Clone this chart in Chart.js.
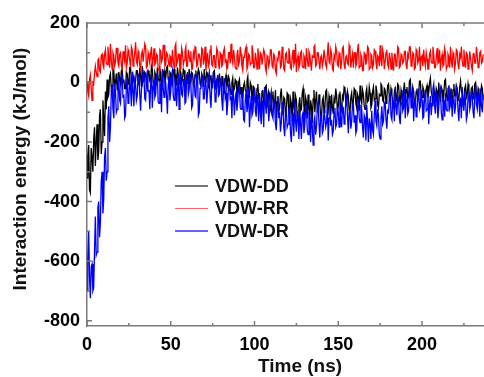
<!DOCTYPE html>
<html>
<head>
<meta charset="utf-8">
<script src="https://cdn.jsdelivr.net/npm/chart.js@4.4.1/dist/chart.umd.min.js"></script>
<style>
  html, body { margin: 0; padding: 0; background: #fff; }
  #wrap { position: relative; width: 484px; height: 377px; }
  .legend { position: absolute; left: 175px; top: 175px; font: bold 18px "Liberation Sans", Arial, sans-serif; color: #111; }
  .row { height: 22.5px; display: flex; align-items: center; }
  .swatch { width: 33px; height: 0; border-top: 2px solid; margin-right: 7px; }
</style>
</head>
<body>
<div id="wrap">
  <canvas id="chart" width="484" height="377"></canvas>
  <div class="legend">
    <div class="row"><span class="swatch" style="border-color:#777"></span>VDW-DD</div>
    <div class="row"><span class="swatch" style="border-color:#f66;border-top-width:1.5px"></span>VDW-RR</div>
    <div class="row"><span class="swatch" style="border-color:#66f"></span>VDW-DR</div>
  </div>
</div>
<script>
// 0.5 ns sampling, one row = 10 ns
const timeStep = 0.5;

const vdwDD = [
  -320,-250,-210,-360,-370,-220,-250,-300,-190,-150,-280,-200,-140,-260,-230,-110,-90,-240,-200,-60,
  -120,-180,-30,-90,10,-50,-40,20,30,-20,-10,45,40,-15,0,30,-25,-5,35,10,
  -5,40,45,0,10,-20,-20,35,30,-5,0,50,50,5,-15,25,25,-10,5,40,
  40,5,-10,50,20,-15,55,20,0,35,30,-10,-20,40,35,5,10,55,45,0,
  -5,35,25,-10,50,15,5,45,35,-5,-15,30,40,0,15,50,55,10,0,35,
  30,-5,-10,40,45,10,20,-10,50,25,-5,40,35,0,10,45,40,-10,-20,25,
  25,-5,45,20,0,35,30,-10,-15,25,40,5,10,45,35,-5,-10,30,20,-15,
  45,10,5,35,30,-15,-20,20,25,-10,0,35,40,5,-25,10,15,-20,30,5,
  -10,20,20,-20,-30,10,25,-15,-5,20,10,-25,-40,0,15,-30,-20,10,5,-35,
  -35,0,10,-40,-15,-50,-50,-10,0,-25,-30,5,20,-35,-45,0,-10,-55,-60,-15,
  -20,-65,-70,-20,-5,-50,-45,-95,-90,-30,-25,-75,-60,-15,-10,-70,-80,-30,-40,-90,
  -100,-45,-30,-85,-70,-25,-120,-65,-45,-100,-85,-40,-20,-75,-110,-50,-55,-115,-95,-35,
  -40,-100,-120,-55,-70,-130,-30,-80,-100,-45,-60,-115,-130,-75,-50,-95,-90,-35,-20,-80,
  -110,-50,-65,-120,-40,-85,-125,-60,-80,-135,-55,-25,-100,-60,-30,-95,-90,-40,-70,-120,
  -115,-60,-50,-100,-85,-30,-25,-80,-95,-45,-60,-110,-40,-85,-105,-55,-70,-20,-45,-95,
  -80,-40,-30,-85,-95,-45,-55,-15,-20,-70,-75,-30,-45,-95,-100,-50,-35,-80,-65,-20,
  -25,-70,-85,-40,-50,-95,-10,-55,-70,-25,-40,-80,-90,-35,-20,-65,-60,-15,-35,-85,
  -75,-30,-15,-60,-55,-10,-30,-75,-85,-40,-45,-5,-10,-60,-65,-20,-25,-70,-50,-10,
  -5,-50,-60,-20,-35,-85,-80,-30,-20,-60,-50,-5,-10,-55,-70,-25,-40,-80,-25,0,
  -65,-25,-15,-55,-45,5,10,-40,-55,-15,-30,-70,-75,-30,-20,-60,-40,5,5,-45,
  -50,-15,-25,-65,-60,-20,-10,-50,-35,0,15,-30,-45,-80,-20,-35,-65,-20,-30,-70,
  0,-40,-55,-15,-25,-65,-40,5,10,-35,-60,-20,-15,-55,-35,-80,-70,-25,-5,-45,
  -45,-10,-20,-60,-55,-15,5,-30,-35,-75,-65,-20,-10,-50,-40,-5,-25,-70,-60,-20,
  -15,-55,-45,-5,0,-40,-55,-20,-30,-70,-50,-10,-20,-60
];

const vdwRR = [
  5,-30,-45,10,25,-20,-60,0,-5,30,55,35,20,75,80,40,35,90,95,60,
  50,95,110,65,60,120,85,50,130,75,45,100,90,55,70,115,115,65,55,95,
  100,60,40,105,85,70,125,50,65,110,95,75,50,120,110,55,75,100,135,70,
  60,105,90,55,45,95,105,70,70,130,120,50,55,100,85,65,100,120,50,80,
  115,60,65,95,90,45,40,110,105,70,80,125,125,55,60,100,95,75,55,90,
  85,50,110,75,50,120,130,60,70,95,95,40,45,115,100,60,75,105,120,55,
  55,110,90,70,105,45,45,100,85,120,115,55,60,95,95,75,50,115,110,60,
  80,120,40,75,100,55,65,110,125,60,55,90,90,50,70,115,105,65,45,100,
  95,55,60,105,115,70,75,45,50,100,100,65,130,80,65,110,85,50,45,90,
  110,60,70,120,95,55,40,85,85,110,120,45,55,95,90,60,65,125,105,50,
  50,100,80,45,115,85,45,100,95,60,60,110,100,50,35,90,85,55,70,110,
  110,55,50,95,90,40,30,80,75,105,105,50,55,120,85,45,40,95,100,70,
  65,115,95,50,45,85,110,60,70,130,35,75,90,50,60,100,105,55,50,90,
  80,45,115,80,55,105,95,65,40,90,85,120,125,55,60,100,100,70,45,85,
  90,55,70,110,110,60,50,95,135,70,65,110,95,45,40,90,80,120,105,60,
  55,100,95,45,70,115,120,60,45,85,90,65,60,125,110,50,75,95,50,100,
  100,55,65,110,130,50,55,95,85,40,40,100,95,60,75,120,115,45,50,95,
  90,50,60,110,105,70,45,90,85,55,125,75,55,110,95,45,70,100,110,60,
  50,100,80,45,100,65,40,95,95,55,65,120,115,50,55,95,90,65,70,105,
  105,60,45,95,85,120,120,55,60,100,95,45,50,110,100,65,75,120,40,85,
  90,55,110,75,55,100,80,45,45,95,105,70,65,120,95,50,50,85,115,65,
  70,110,40,80,95,55,60,115,100,45,55,95,85,50,120,75,50,100,90,45,
  65,110,105,60,45,95,85,120,70,55,110,75,50,100,95,45,60,105,80,55,
  40,95,100,65,65,120,90,50,55,100,105,65,70,95
];

const vdwDR = [
  -700,-590,-500,-650,-725,-620,-610,-700,-690,-560,-450,-580,-570,-420,-400,-520,-470,-330,-300,-440,
  -390,-250,-220,-330,-300,-120,-80,-200,-150,-30,-10,-90,-120,0,-30,-100,-90,20,10,-60,
  -70,15,25,-50,-40,-120,-110,-10,15,-70,-55,20,-20,-80,35,-30,-80,10,-5,-60,
  -45,25,30,-40,-95,-20,-10,35,20,-55,-60,10,40,-30,-25,-90,-5,30,-85,-15,
  10,-50,-40,25,30,-65,-70,5,-15,-100,45,-20,-50,15,0,-45,-105,-10,20,-60,
  -30,25,40,-45,-60,10,5,-80,-20,30,-90,-25,25,-40,-45,10,10,-70,-65,15,
  35,-40,-25,30,-5,-85,-75,0,15,-45,-50,20,30,-110,-100,-20,-10,25,20,-55,
  -55,10,0,-70,-30,20,35,-50,-85,-10,-15,35,10,-65,-60,5,25,-45,-40,15,
  -5,-60,-95,-20,15,-50,-35,-110,-70,-10,0,-55,-50,-120,-20,-45,-110,-60,-30,-95,
  -60,-15,-10,-85,-90,-35,-40,-125,-130,-60,-25,-100,-75,-20,-150,-90,-45,-110,-100,-50,
  -20,-95,-115,-40,-65,-130,-35,-100,-140,-60,-80,-150,-15,-70,-105,-40,-55,-130,-90,-45,
  -30,-110,-120,-60,-70,-140,-160,-90,-50,-120,-100,-165,-135,-70,-75,-150,-180,-110,-95,-150,
  -140,-90,-85,-170,-200,-120,-110,-180,-60,-130,-165,-95,-120,-190,-90,-140,-190,-110,-100,-170,
  -145,-90,-80,-160,-175,-100,-125,-200,-95,-150,-210,-130,-115,-175,-150,-85,-70,-140,-185,-110,
  -105,-170,-160,-90,-90,-150,-135,-70,-195,-120,-75,-145,-125,-175,-165,-100,-85,-150,-140,-80,
  -100,-150,-60,-125,-150,-80,-85,-140,-120,-60,-45,-110,-170,-100,-95,-155,-130,-70,-70,-135,
  -110,-170,-160,-90,-55,-120,-135,-75,-90,-150,-185,-110,-120,-195,-75,-130,-200,-120,-140,-190,
  -95,-160,-175,-110,-60,-130,-145,-90,-110,-175,-190,-120,-80,-140,-130,-70,-65,-125,-155,-95,
  -100,-50,-40,-115,-125,-60,-70,-130,-15,-80,-110,-45,-55,-120,-140,-70,-30,-95,-85,-20,
  -120,-60,-45,-105,-95,-30,-10,-85,-75,-20,-130,-70,-50,-115,-100,-40,-20,-90,-80,-25,
  -60,-120,-115,-50,-25,-95,-90,-30,-140,-75,-45,-110,-70,-20,-5,-80,-105,-40,-55,-120,
  -85,-30,-20,-100,-125,-55,-60,-115,-35,-90,-95,-40,-10,-85,-70,-20,-115,-60,-40,-105,
  -80,-15,-25,-95,-130,-60,-55,-120,-15,-75,-95,-30,-65,-125,-110,-45,-30,-90,-75,-20,
  -45,-100,-120,-50,-10,-75,-90,-35,-55,-115,-20,-80,-100,-40
];

const times = vdwDD.map((_, i) => i * timeStep);

const xMajor = [0, 50, 100, 150, 200];
const xMinor = [25, 75, 125, 175, 225];
const yMajor = [-800, -600, -400, -200, 0, 200];
const yMinor = [-700, -500, -300, -100, 100];

const axisColor = '#7a7a7a';
const fontFamily = '"Liberation Sans", Arial, sans-serif';

// inward ticks, top frame line and axis titles
const framePlugin = {
  id: 'frame',
  afterDraw(chart) {
    const { ctx, chartArea: a, scales: { x, y } } = chart;
    ctx.save();
    ctx.strokeStyle = axisColor;
    ctx.lineWidth = 1.5;
    ctx.beginPath();
    ctx.moveTo(a.left, a.top);
    ctx.lineTo(a.right, a.top);
    const tickX = (v, len) => {
      const px = x.getPixelForValue(v);
      ctx.moveTo(px, a.bottom); ctx.lineTo(px, a.bottom - len);
      ctx.moveTo(px, a.top); ctx.lineTo(px, a.top + len);
    };
    const tickY = (v, len) => {
      const py = y.getPixelForValue(v);
      ctx.moveTo(a.left, py); ctx.lineTo(a.left + len, py);
    };
    xMajor.forEach(v => tickX(v, 5));
    xMinor.forEach(v => tickX(v, 3));
    yMajor.forEach(v => tickY(v, 5));
    yMinor.forEach(v => tickY(v, 3));
    ctx.stroke();

    ctx.fillStyle = '#111';
    ctx.font = 'bold 19px ' + fontFamily;
    ctx.textAlign = 'center';
    ctx.textBaseline = 'middle';
    ctx.fillText('Time (ns)', 300, 367);
    ctx.translate(21, 169);
    ctx.rotate(-Math.PI / 2);
    ctx.fillText('Interaction energy (kJ/mol)', 0, 0);
    ctx.restore();
  }
};

new Chart(document.getElementById('chart').getContext('2d'), {
  type: 'line',
  data: {
    labels: times,
    datasets: [
      { label: 'VDW-DD', data: vdwDD, borderColor: '#000', order: 2 },
      { label: 'VDW-RR', data: vdwRR, borderColor: '#ff0000', order: 1 },
      { label: 'VDW-DR', data: vdwDR, borderColor: '#0000ff', order: 0 }
    ]
  },
  options: {
    responsive: false,
    animation: false,
    layout: { padding: { top: 23, right: 0, left: 0, bottom: 0 } },
    elements: {
      point: { radius: 0 },
      line: { borderWidth: 1.3, tension: 0 }
    },
    plugins: {
      legend: { display: false },
      tooltip: { enabled: false }
    },
    scales: {
      x: {
        type: 'linear',
        min: 0,
        max: 237,
        afterFit: s => { s.height = 51; },
        afterBuildTicks: s => { s.ticks = xMajor.map(v => ({ value: v })); },
        grid: { display: false, drawTicks: false },
        border: { display: true, color: axisColor, width: 1.5 },
        ticks: { padding: 8, color: '#000', maxRotation: 0, font: { family: fontFamily, size: 18, weight: 'bold' } }
      },
      y: {
        min: -818,
        max: 200,
        afterFit: s => { s.width = 87; },
        afterBuildTicks: s => { s.ticks = yMajor.map(v => ({ value: v })); },
        grid: { display: false, drawTicks: false },
        border: { display: true, color: axisColor, width: 1.5 },
        ticks: { padding: 7, color: '#000', font: { family: fontFamily, size: 18, weight: 'bold' } }
      }
    }
  },
  plugins: [framePlugin]
});
</script>
</body>
</html>
